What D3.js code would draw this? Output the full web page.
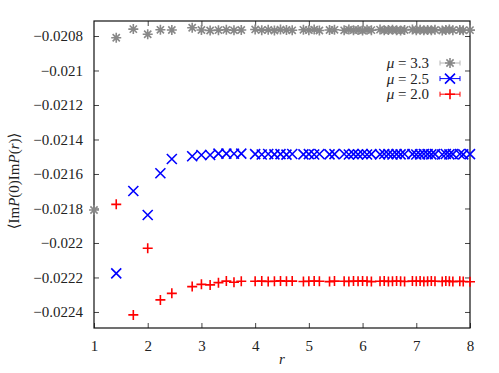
<!DOCTYPE html>
<html>
<head>
<meta charset="utf-8">
<script src="https://cdn.jsdelivr.net/npm/d3@7"></script>
<style>
  body { margin: 0; background: #fff; }
  text { font-family: "Liberation Serif", "DejaVu Serif", serif; fill: #222; }
</style>
</head>
<body>
<div id="chart"></div>
<script>
var svgWidth = 499;
var svgHeight = 373;

var margins = { top: 21, right: 29, bottom: 45, left: 94 };
var width = svgWidth - margins.left - margins.right;
var height = svgHeight - margins.top - margins.bottom;

// distances r on the lattice
var rValues = [1, 1.414, 1.732, 2, 2.236, 2.449, 2.828, 3, 3.162, 3.317, 3.464, 3.606, 3.742,
  4, 4.123, 4.243, 4.359, 4.472, 4.583, 4.690, 4.899, 5, 5.099, 5.196, 5.385, 5.477,
  5.657, 5.745, 5.831, 5.916, 6, 6.083, 6.164, 6.325, 6.403, 6.481, 6.557, 6.633, 6.708,
  6.782, 6.928, 7, 7.071, 7.141, 7.211, 7.280, 7.348, 7.483, 7.550, 7.616, 7.681, 7.810,
  7.874, 8];

var mu33 = [-0.021809, -0.020810, -0.020760, -0.020790, -0.020764, -0.020765, -0.020752,
  -0.020765, -0.020768, -0.020766, -0.020764, -0.020767, -0.020765,
  -0.020762, -0.020766, -0.020764, -0.020768, -0.020763, -0.020765, -0.020767, -0.020764,
  -0.020766, -0.020763, -0.020768, -0.020765, -0.020764, -0.020767, -0.020763, -0.020766,
  -0.020765, -0.020768, -0.020764, -0.020766, -0.020763, -0.020767, -0.020765, -0.020764,
  -0.020766, -0.020768, -0.020765, -0.020763, -0.020766, -0.020764, -0.020767, -0.020765,
  -0.020766, -0.020764, -0.020768, -0.020765, -0.020763, -0.020766, -0.020765, -0.020767,
  -0.020766];

var mu25 = [null, -0.022176, -0.021699, -0.021838, -0.021596, -0.021513, -0.021497,
  -0.021490, -0.021490, -0.021482, -0.021482, -0.021483, -0.021482,
  -0.021485, -0.021487, -0.021484, -0.021486, -0.021485, -0.021488, -0.021484, -0.021486,
  -0.021485, -0.021487, -0.021484, -0.021486, -0.021485, -0.021484, -0.021487, -0.021485,
  -0.021486, -0.021484, -0.021487, -0.021485, -0.021486, -0.021484, -0.021485, -0.021487,
  -0.021485, -0.021486, -0.021484, -0.021485, -0.021487, -0.021486, -0.021484, -0.021485,
  -0.021486, -0.021485, -0.021487, -0.021484, -0.021486, -0.021485, -0.021484, -0.021486,
  -0.021485];

var mu20 = [null, -0.021776, -0.022417, -0.022031, -0.022330, -0.022292, -0.022253,
  -0.022240, -0.022243, -0.022230, -0.022221, -0.022228, -0.022222,
  -0.022222, -0.022221, -0.022223, -0.022222, -0.022220, -0.022222, -0.022221, -0.022223,
  -0.022222, -0.022221, -0.022222, -0.022224, -0.022221, -0.022222, -0.022223, -0.022221,
  -0.022222, -0.022220, -0.022222, -0.022224, -0.022222, -0.022221, -0.022223, -0.022222,
  -0.022221, -0.022222, -0.022223, -0.022221, -0.022222, -0.022221, -0.022223, -0.022222,
  -0.022221, -0.022222, -0.022223, -0.022221, -0.022222, -0.022224, -0.022222, -0.022223,
  -0.022225];

var seriesLabels = ["3.3", "2.5", "2.0"];
var seriesColors = ["#888888", "#0000ff", "#ff0000"];
var seriesShapes = ["star", "cross", "plus"];

var xTicks = [1, 2, 3, 4, 5, 6, 7, 8];
var yTicks = [-0.0224, -0.0222, -0.022, -0.0218, -0.0216, -0.0214, -0.0212, -0.021, -0.0208];

var svg = d3.select("#chart")
  .append("svg")
  .attr("width", svgWidth)
  .attr("height", svgHeight);

var chartGroup = svg.append("g")
  .attr("transform", `translate(${margins.left}, ${margins.top})`);

// Scales
var xScale = d3.scaleLinear().domain([1, 8]).range([0, width]);
var yScale = d3.scaleLinear().domain([-0.022493, -0.020713]).range([height, 0]);

function fmt(v) {
  return String(v).replace("-", "\u2212");
}

// Axes (inward ticks, mirrored like gnuplot)
var bottomAxis = d3.axisBottom(xScale).tickValues(xTicks).tickSizeInner(-5).tickSizeOuter(0)
  .tickPadding(12).tickFormat(d => d);
var topAxis = d3.axisTop(xScale).tickValues(xTicks.slice(1, -1)).tickSizeInner(-5).tickSizeOuter(0)
  .tickFormat("");
var leftAxis = d3.axisLeft(yScale).tickValues(yTicks).tickSizeInner(-5).tickSizeOuter(0)
  .tickPadding(11).tickFormat(fmt);
var rightAxis = d3.axisRight(yScale).tickValues(yTicks).tickSizeInner(-5).tickSizeOuter(0)
  .tickFormat("");

[
  chartGroup.append("g").attr("transform", `translate(0, ${height})`).call(bottomAxis),
  chartGroup.append("g").call(topAxis),
  chartGroup.append("g").call(leftAxis),
  chartGroup.append("g").attr("transform", `translate(${width}, 0)`).call(rightAxis)
].forEach(function(g) {
  g.select(".domain").remove();
  g.selectAll(".tick line").attr("stroke", "#444");
  g.selectAll(".tick text").attr("font-size", 15).attr("fill", "#222");
});

// Border
chartGroup.append("rect")
  .attr("x", 0).attr("y", 0)
  .attr("width", width).attr("height", height)
  .attr("fill", "none")
  .attr("stroke", "#111")
  .attr("stroke-width", 1.2);

// Markers
function drawMarker(g, shape, x, y, color) {
  var s = 5;
  var p = "";
  if (shape === "plus" || shape === "star") {
    p += `M${x - s},${y}L${x + s},${y}M${x},${y - s}L${x},${y + s}`;
  }
  if (shape === "cross" || shape === "star") {
    var c = shape === "star" ? 3.6 : s;
    p += `M${x - c},${y - c}L${x + c},${y + c}M${x - c},${y + c}L${x + c},${y - c}`;
  }
  g.append("path").attr("d", p).attr("stroke", color)
    .attr("stroke-width", 1.6).attr("fill", "none");
}

var allSeries = [mu33, mu25, mu20];
allSeries.forEach(function(vals, i) {
  var g = chartGroup.append("g");
  vals.forEach(function(v, j) {
    if (v === null) return;
    drawMarker(g, seriesShapes[i], xScale(rValues[j]), yScale(v), seriesColors[i]);
  });
});

// Legend
var legend = svg.append("g");
seriesLabels.forEach(function(lab, i) {
  var cy = 63 + i * 15.6;
  var t = legend.append("text")
    .attr("x", 429).attr("y", cy + 5)
    .attr("text-anchor", "end")
    .attr("font-size", 15);
  t.append("tspan").attr("font-style", "italic").text("\u03bc");
  t.append("tspan").text(" = " + lab);

  var lg = legend.append("g").attr("stroke", seriesColors[i]).attr("stroke-width", 1)
    .attr("opacity", i === 0 ? 0.6 : 1);
  lg.append("line").attr("x1", 440).attr("x2", 460).attr("y1", cy).attr("y2", cy);
  lg.append("line").attr("x1", 440).attr("x2", 440).attr("y1", cy - 2.5).attr("y2", cy + 2.5);
  lg.append("line").attr("x1", 460).attr("x2", 460).attr("y1", cy - 2.5).attr("y2", cy + 2.5);
  drawMarker(legend, seriesShapes[i], 450, cy, seriesColors[i]);
});

// Axis titles
svg.append("text")
  .attr("x", margins.left + width / 2)
  .attr("y", 364)
  .attr("text-anchor", "middle")
  .attr("font-size", 15)
  .attr("font-style", "italic")
  .text("r");

var yTitle = svg.append("text")
  .attr("transform", "translate(19, 181) rotate(-90)")
  .attr("text-anchor", "middle")
  .attr("font-size", 15);
yTitle.append("tspan").text("\u27e8Im");
yTitle.append("tspan").attr("font-style", "italic").text("P");
yTitle.append("tspan").text("(0)Im");
yTitle.append("tspan").attr("font-style", "italic").text("P");
yTitle.append("tspan").text("(");
yTitle.append("tspan").attr("font-style", "italic").text("r");
yTitle.append("tspan").text(")\u27e9");
</script>
</body>
</html>
